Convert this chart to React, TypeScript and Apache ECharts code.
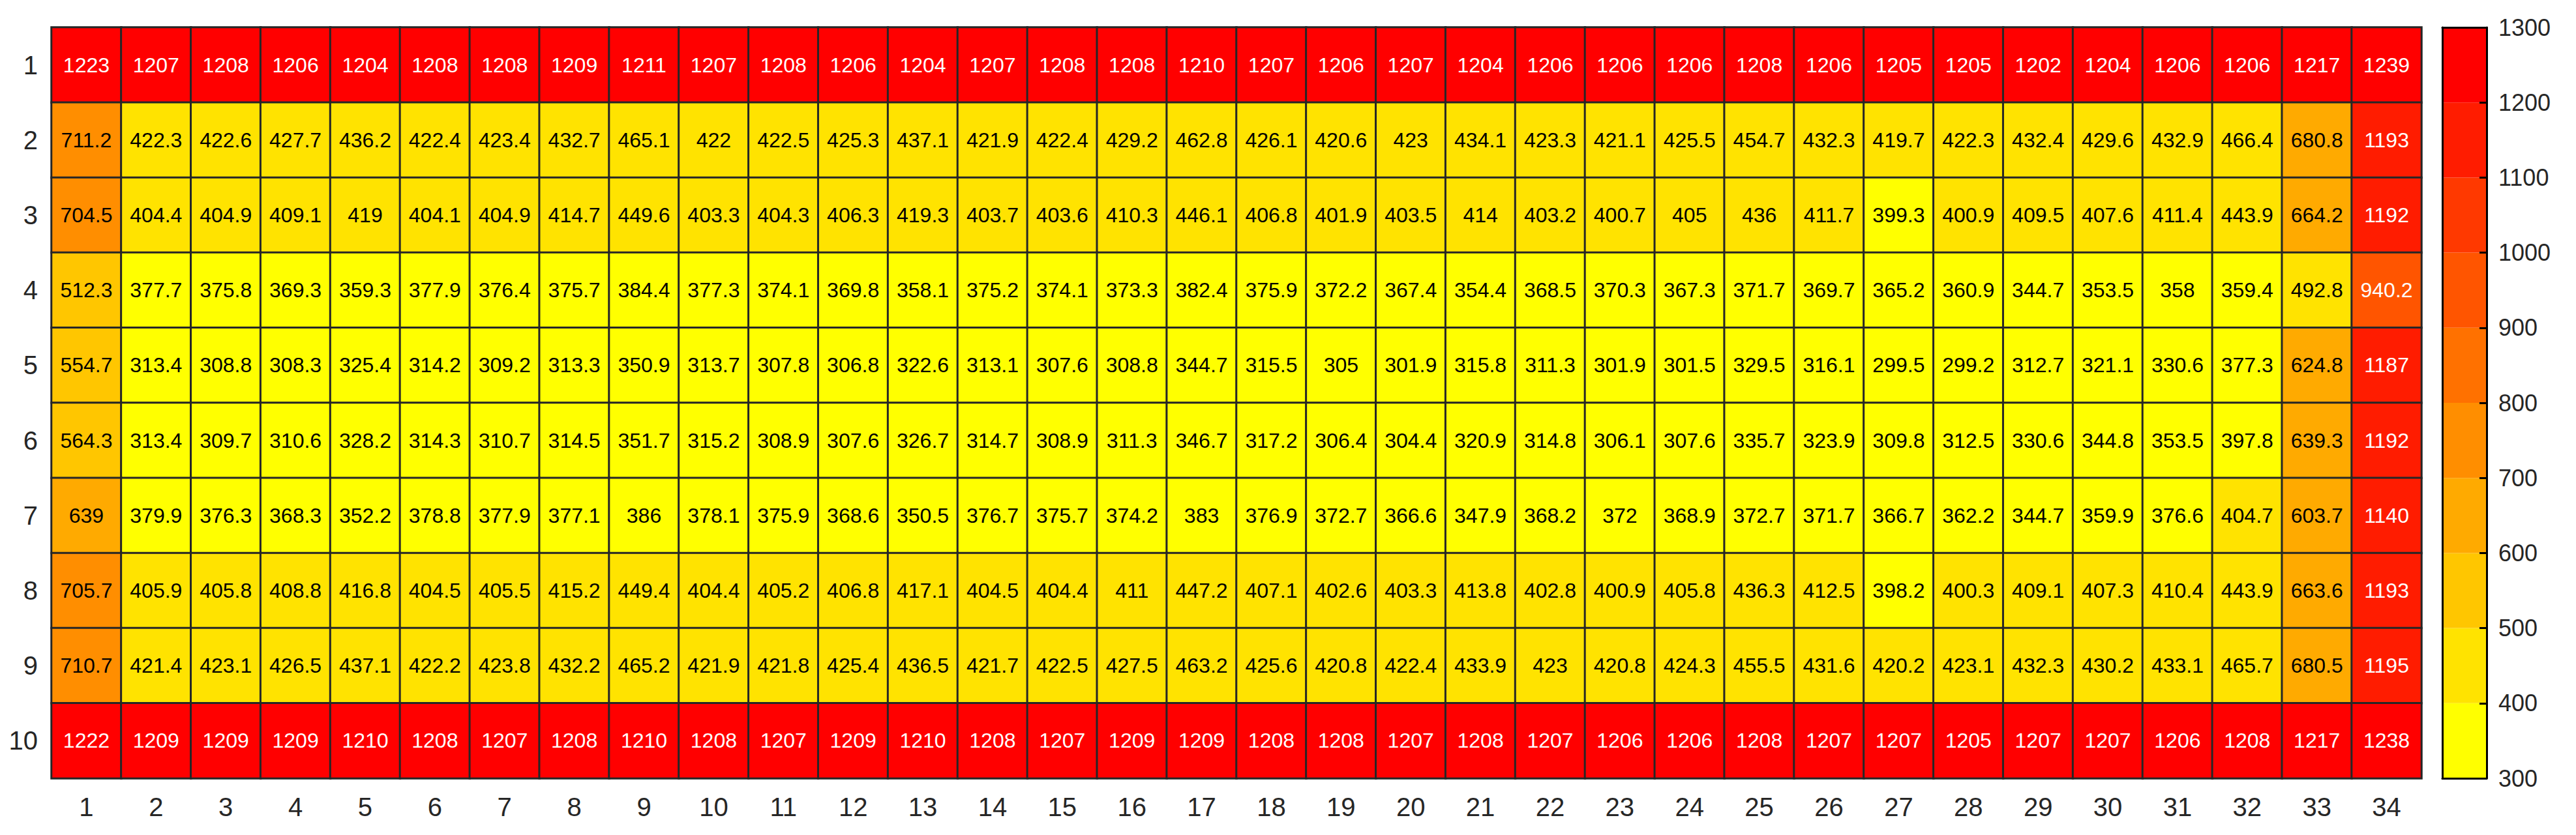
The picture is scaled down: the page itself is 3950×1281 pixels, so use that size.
import React, { useEffect, useRef } from "react";
import * as echarts from "echarts";

const xCategories = ["1","2","3","4","5","6","7","8","9","10","11","12","13","14","15","16","17","18","19","20","21","22","23","24","25","26","27","28","29","30","31","32","33","34"];
const yCategories = ["1","2","3","4","5","6","7","8","9","10"];

const row1 = [1223,1207,1208,1206,1204,1208,1208,1209,1211,1207,1208,1206,1204,1207,1208,1208,1210,1207,1206,1207,1204,1206,1206,1206,1208,1206,1205,1205,1202,1204,1206,1206,1217,1239];
const row2 = [711.2,422.3,422.6,427.7,436.2,422.4,423.4,432.7,465.1,422,422.5,425.3,437.1,421.9,422.4,429.2,462.8,426.1,420.6,423,434.1,423.3,421.1,425.5,454.7,432.3,419.7,422.3,432.4,429.6,432.9,466.4,680.8,1193];
const row3 = [704.5,404.4,404.9,409.1,419,404.1,404.9,414.7,449.6,403.3,404.3,406.3,419.3,403.7,403.6,410.3,446.1,406.8,401.9,403.5,414,403.2,400.7,405,436,411.7,399.3,400.9,409.5,407.6,411.4,443.9,664.2,1192];
const row4 = [512.3,377.7,375.8,369.3,359.3,377.9,376.4,375.7,384.4,377.3,374.1,369.8,358.1,375.2,374.1,373.3,382.4,375.9,372.2,367.4,354.4,368.5,370.3,367.3,371.7,369.7,365.2,360.9,344.7,353.5,358,359.4,492.8,940.2];
const row5 = [554.7,313.4,308.8,308.3,325.4,314.2,309.2,313.3,350.9,313.7,307.8,306.8,322.6,313.1,307.6,308.8,344.7,315.5,305,301.9,315.8,311.3,301.9,301.5,329.5,316.1,299.5,299.2,312.7,321.1,330.6,377.3,624.8,1187];
const row6 = [564.3,313.4,309.7,310.6,328.2,314.3,310.7,314.5,351.7,315.2,308.9,307.6,326.7,314.7,308.9,311.3,346.7,317.2,306.4,304.4,320.9,314.8,306.1,307.6,335.7,323.9,309.8,312.5,330.6,344.8,353.5,397.8,639.3,1192];
const row7 = [639,379.9,376.3,368.3,352.2,378.8,377.9,377.1,386,378.1,375.9,368.6,350.5,376.7,375.7,374.2,383,376.9,372.7,366.6,347.9,368.2,372,368.9,372.7,371.7,366.7,362.2,344.7,359.9,376.6,404.7,603.7,1140];
const row8 = [705.7,405.9,405.8,408.8,416.8,404.5,405.5,415.2,449.4,404.4,405.2,406.8,417.1,404.5,404.4,411,447.2,407.1,402.6,403.3,413.8,402.8,400.9,405.8,436.3,412.5,398.2,400.3,409.1,407.3,410.4,443.9,663.6,1193];
const row9 = [710.7,421.4,423.1,426.5,437.1,422.2,423.8,432.2,465.2,421.9,421.8,425.4,436.5,421.7,422.5,427.5,463.2,425.6,420.8,422.4,433.9,423,420.8,424.3,455.5,431.6,420.2,423.1,432.3,430.2,433.1,465.7,680.5,1195];
const row10 = [1222,1209,1209,1209,1210,1208,1207,1208,1210,1208,1207,1209,1210,1208,1207,1209,1209,1208,1208,1207,1208,1207,1206,1206,1208,1207,1207,1205,1207,1207,1206,1208,1217,1238];

const rows = [row1, row2, row3, row4, row5, row6, row7, row8, row9, row10];

const colorbarTicks = [300, 400, 500, 600, 700, 800, 900, 1000, 1100, 1200, 1300];
const binColors = ["#FFFF00", "#FFE300", "#FFC600", "#FFAA00", "#FF8E00", "#FF7100", "#FF5500", "#FF3900", "#FF1C00", "#FF0000"];
const whiteTextFrom = 900;

const FONT = "'Liberation Sans', Arial, Helvetica, sans-serif";
const TEXT = "#262626";

export default function App() {
  const ref = useRef<HTMLDivElement>(null);
  useEffect(() => {
    document.body.style.margin = "0";
    const chart = echarts.init(ref.current!, null, { renderer: "svg" });

    const heatData: any[] = [];
    rows.forEach((r, yi) => {
      r.forEach((v, xi) => {
        heatData.push({
          value: [xi, yi, v],
          label: { color: v >= whiteTextFrom ? "#FFFFFF" : "#000000" },
        });
      });
    });

    const pieces = binColors.map((c, i) => {
      const p: any = { color: c };
      if (i > 0) p.gte = colorbarTicks[i];
      if (i < binColors.length - 1) p.lt = colorbarTicks[i + 1];
      return p;
    });

    const barData = binColors.map((c, i) => ({
      value: [colorbarTicks[i], colorbarTicks[i + 1]],
      itemStyle: { color: c },
    }));

    const option: any = {
      animation: false,
      backgroundColor: "#FFFFFF",
      textStyle: { fontFamily: FONT },
      grid: [
        { left: 79, top: 42, width: 3634, height: 1152 },
        { left: 3745, top: 42, width: 68, height: 1152 },
      ],
      xAxis: [
        {
          type: "category",
          data: xCategories,
          gridIndex: 0,
          position: "bottom",
          axisLine: { show: false },
          axisTick: { show: false },
          splitLine: { show: false },
          axisLabel: { fontSize: 40, color: TEXT, margin: 24, fontFamily: FONT },
        },
        {
          type: "value", gridIndex: 1, min: 0, max: 1, position: "bottom", z: 10,
          axisLine: { show: true, onZero: false, lineStyle: { color: "#000", width: 3 } },
          axisTick: { show: false }, axisLabel: { show: false }, splitLine: { show: false },
        },
        {
          type: "value", gridIndex: 1, min: 0, max: 1, position: "top", z: 10,
          axisLine: { show: true, onZero: false, lineStyle: { color: "#000", width: 3 } },
          axisTick: { show: false }, axisLabel: { show: false }, splitLine: { show: false },
        },
      ],
      yAxis: [
        {
          type: "category",
          data: yCategories,
          gridIndex: 0,
          inverse: true,
          axisLine: { show: false },
          axisTick: { show: false },
          splitLine: { show: false },
          axisLabel: { fontSize: 40, color: TEXT, margin: 21, fontFamily: FONT },
        },
        {
          type: "value", gridIndex: 1, position: "right", min: 300, max: 1300, interval: 100, z: 10,
          axisLine: { show: true, onZero: false, lineStyle: { color: "#000", width: 3 } },
          axisTick: { show: true, inside: true, length: 11, lineStyle: { color: "#000", width: 3 } },
          axisLabel: { fontSize: 36, color: TEXT, margin: 18, fontFamily: FONT, formatter: (v: number) => String(v) },
          splitLine: { show: false },
        },
        {
          type: "value", gridIndex: 1, position: "left", min: 300, max: 1300, interval: 100, z: 10,
          axisLine: { show: true, onZero: false, lineStyle: { color: "#000", width: 3 } },
          axisTick: { show: false }, axisLabel: { show: false }, splitLine: { show: false },
        },
      ],
      visualMap: {
        type: "piecewise",
        show: false,
        seriesIndex: 0,
        dimension: 2,
        pieces,
      },
      series: [
        {
          type: "heatmap",
          xAxisIndex: 0,
          yAxisIndex: 0,
          data: heatData,
          itemStyle: { borderColor: "#262626", borderWidth: 3 },
          label: {
            show: true,
            fontSize: 32,
            fontFamily: FONT,
            formatter: (p: any) => String(p.value[2]),
          },
          emphasis: { disabled: true },
        },
        {
          type: "custom",
          xAxisIndex: 1,
          yAxisIndex: 1,
          clip: false,
          data: barData,
          encode: { y: [0, 1] },
          renderItem: (params: any, api: any) => {
            const lo = api.value(0);
            const hi = api.value(1);
            const top = api.coord([0, hi]);
            const bot = api.coord([0, lo]);
            const cs = params.coordSys;
            return {
              type: "rect",
              shape: { x: cs.x, y: top[1], width: cs.width, height: bot[1] - top[1] },
              style: { fill: api.visual("color"), stroke: null },
            };
          },
        },
      ],
    };
    chart.setOption(option);
    return () => chart.dispose();
  }, []);
  return <div ref={ref} style={{ width: 3950, height: 1281 }} />;
}
